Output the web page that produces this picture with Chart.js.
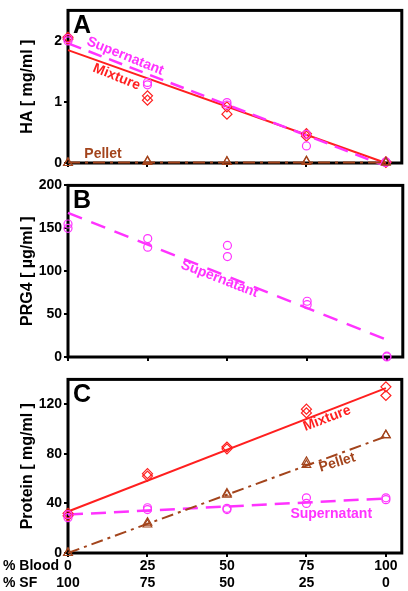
<!DOCTYPE html>
<html>
<head>
<meta charset="utf-8">
<script src="https://cdn.jsdelivr.net/npm/chart.js@4"></script>
<style>
  body { margin: 0; background: #fff; }
  canvas { position: absolute; left: 0; }
</style>
</head>
<body>
<canvas id="chartA" width="408" height="175" style="top:0px"></canvas>
<canvas id="chartB" width="408" height="194" style="top:175px"></canvas>
<canvas id="chartC" width="408" height="222" style="top:369px"></canvas>
<script>
const RED = '#ff1f1f';
const MAGENTA = '#ff33ff';
const BROWN = '#a3441c';
const FONT = '"Liberation Sans", Arial, sans-serif';

// x axis: % blood and the matching % SF
const bloodTicks = [0, 25, 50, 75, 100];
const sfTicks = [100, 75, 50, 25, 0];
const repX = [0, 0, 25, 25, 50, 50, 75, 75, 100, 100];
const fitX = [0, 100];

// A: HA [mg/ml]
const haMixture = [2.06, 2.03, 1.10, 1.03, 0.92, 0.80, 0.48, 0.44, 0.02, 0.01];
const haSupernatant = [2.04, 2.00, 1.32, 1.28, 0.99, 0.95, 0.47, 0.28, 0.02, 0.01];
const haPellet = [0.00, 0.00, 0.03, 0.02, 0.02, 0.02, 0.03, 0.02, 0.01, 0.01];
const haMixtureFit = [1.85, 0.0];
const haSupernatantFit = [1.96, -0.05];
const haPelletFit = [0.01, 0.01];
const haTicks = [0, 1, 2];

// B: PRG4 [ug/ml]
const prgSupernatant = [155, 150, 138, 128, 130, 117, 65, 61, 1, 0];
const prgSupernatantFit = [168, 20];
const prgTicks = [0, 50, 100, 150, 200];

// C: Protein [mg/ml]
const protMixture = [32, 30, 64, 62, 85.5, 84, 116, 113, 134, 127];
const protSupernatant = [31, 28.5, 36.5, 35, 35, 36, 44.5, 40, 44.5, 43];
const protPellet = [0, 0, 24.5, 23, 48, 47, 73.5, 71, 95, 95];
const protMixtureFit = [33.5, 133];
const protSupernatantFit = [31, 44];
const protPelletFit = [0, 94];
const protTicks = [0, 40, 80, 120];

function pts(xs, ys) {
  return xs.map((x, i) => ({ x: x, y: ys[i] }));
}

function markers(ys, color, style) {
  return {
    data: pts(repX, ys), showLine: false, clip: false,
    pointStyle: style, pointRadius: style === 'circle' ? 4 : 5,
    borderColor: color, backgroundColor: 'rgba(0,0,0,0)', pointBorderWidth: 1.2
  };
}

function fitLine(ys, color, dash, width) {
  return {
    data: pts(fitX, ys), showLine: true, clip: false, pointRadius: 0,
    borderColor: color, borderWidth: width, borderDash: dash, backgroundColor: color
  };
}

const frame = {
  id: 'frame',
  beforeDatasetsDraw(chart) {
    const { ctx, chartArea: a } = chart;
    ctx.save();
    ctx.lineWidth = 3;
    ctx.strokeStyle = '#000';
    ctx.strokeRect(a.left, a.top, a.right - a.left, a.bottom - a.top);
    ctx.restore();
  }
};

function notesPlugin(panel) {
  return {
    id: 'notes',
    afterDatasetsDraw(chart) {
      const { ctx, chartArea: a, scales } = chart;
      ctx.save();
      ctx.fillStyle = '#000';
      ctx.font = 'bold 25px ' + FONT;
      ctx.textAlign = 'left';
      ctx.textBaseline = 'alphabetic';
      ctx.fillText(panel.letter, a.left + 5, a.top + 23);
      panel.notes.forEach(n => {
        ctx.save();
        ctx.translate(scales.x.getPixelForValue(n.x), scales.y.getPixelForValue(n.y));
        ctx.rotate(n.angle * Math.PI / 180);
        ctx.fillStyle = n.color;
        ctx.font = 'bold 14px ' + FONT;
        ctx.textAlign = 'center';
        ctx.textBaseline = 'middle';
        ctx.fillText(n.text, 0, 0);
        ctx.restore();
      });
      if (panel.showX) {
        ctx.fillStyle = '#000';
        ctx.font = 'bold 14px ' + FONT;
        ctx.textAlign = 'left';
        ctx.textBaseline = 'middle';
        ctx.fillText('% Blood', 3, a.bottom + 13);
        ctx.fillText('% SF', 3, a.bottom + 30);
      }
      ctx.restore();
    }
  };
}

function makePanel(id, panel) {
  const tickFont = { family: FONT, size: 14, weight: 'bold' };
  const grid = { drawOnChartArea: false, tickLength: 4, tickColor: '#000', lineWidth: 2 };
  new Chart(document.getElementById(id), {
    type: 'scatter',
    data: { datasets: panel.datasets },
    options: {
      responsive: false,
      animation: false,
      layout: { padding: { top: panel.padTop, right: 3, left: 0, bottom: 0 } },
      plugins: { legend: { display: false }, tooltip: { enabled: false } },
      scales: {
        x: {
          type: 'linear', min: 0, max: 105,
          afterBuildTicks: s => { s.ticks = bloodTicks.map(v => ({ value: v })); },
          afterFit: s => { s.height = panel.xHeight; },
          border: { display: false },
          grid: grid,
          ticks: {
            display: panel.showX, padding: 1, color: '#000', font: tickFont,
            callback: v => [String(v), String(sfTicks[bloodTicks.indexOf(v)])]
          }
        },
        y: {
          type: 'linear', min: 0, max: panel.yMax,
          afterBuildTicks: s => { s.ticks = panel.yTicks.map(v => ({ value: v })); },
          afterFit: s => { s.width = 68; },
          border: { display: false },
          grid: grid,
          ticks: { padding: 2, color: '#000', font: tickFont },
          title: {
            display: true, text: panel.yTitle, color: '#000',
            font: { family: FONT, size: 16, weight: 'bold' },
            padding: { top: 18, bottom: 0 }
          }
        }
      }
    },
    plugins: [frame, notesPlugin(panel)]
  });
}

makePanel('chartA', {
  letter: 'A', yTitle: 'HA [ mg/ml ]', yMax: 2.5, yTicks: haTicks,
  padTop: 2, xHeight: 12, showX: false,
  datasets: [
    markers(haPellet, BROWN, 'triangle'),
    markers(haSupernatant, MAGENTA, 'circle'),
    markers(haMixture, RED, 'rectRot'),
    fitLine(haPelletFit, BROWN, [12, 5, 3, 5], 2),
    fitLine(haSupernatantFit, MAGENTA, [14, 8], 2.5),
    fitLine(haMixtureFit, RED, [], 2)
  ],
  notes: [
    { text: 'Supernatant', x: 18, y: 1.75, angle: 22, color: MAGENTA },
    { text: 'Mixture', x: 15.3, y: 1.41, angle: 22, color: RED },
    { text: 'Pellet', x: 11, y: 0.14, angle: 0, color: BROWN }
  ]
});

makePanel('chartB', {
  letter: 'B', yTitle: 'PRG4 [ µg/ml ]', yMax: 200, yTicks: prgTicks,
  padTop: 8, xHeight: 12, showX: false,
  datasets: [
    markers(prgSupernatant, MAGENTA, 'circle'),
    fitLine(prgSupernatantFit, MAGENTA, [15, 10], 2.5)
  ],
  notes: [
    { text: 'Supernatant', x: 47.5, y: 91, angle: 21, color: MAGENTA }
  ]
});

makePanel('chartC', {
  letter: 'C', yTitle: 'Protein [ mg/ml ]', yMax: 140, yTicks: protTicks,
  padTop: 7, xHeight: 38, showX: true,
  datasets: [
    markers(protPellet, BROWN, 'triangle'),
    markers(protSupernatant, MAGENTA, 'circle'),
    markers(protMixture, RED, 'rectRot'),
    fitLine(protPelletFit, BROWN, [12, 5, 3, 5], 2),
    fitLine(protSupernatantFit, MAGENTA, [15, 8], 2.5),
    fitLine(protMixtureFit, RED, [], 2)
  ],
  notes: [
    { text: 'Mixture', x: 81.5, y: 108.5, angle: -21, color: RED },
    { text: 'Pellet', x: 84.7, y: 72.9, angle: -17, color: BROWN },
    { text: 'Supernatant', x: 82.8, y: 31.7, angle: 0, color: MAGENTA }
  ]
});
</script>
</body>
</html>
